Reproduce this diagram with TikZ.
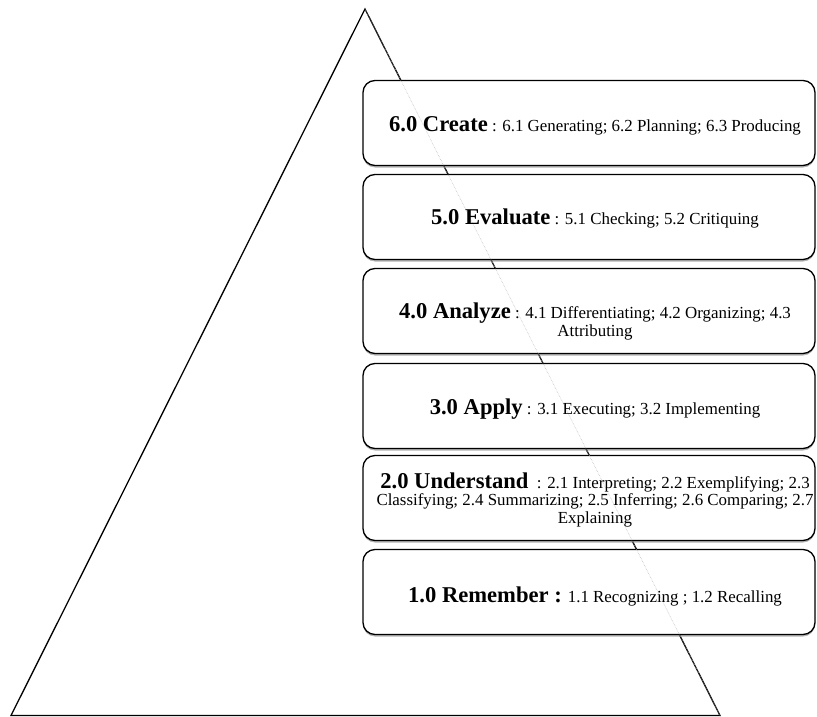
\documentclass[tikz,border=0pt]{standalone}
\usepackage{fontspec}
\setmainfont{Liberation Serif}
\usetikzlibrary{shadows}
\newcommand{\lvlname}[1]{{\fontsize{22.6}{24}\selectfont\bfseries #1}}
\begin{document}
\begin{tikzpicture}[x=1pt,y=-1pt,
        lvl/.style={draw,line width=1.3pt,rounded corners=12pt,fill=white,minimum width=452pt,minimum height=85pt,
            drop shadow={shadow xshift=0pt,shadow yshift=-2pt,opacity=0.6}},
        txt/.style={anchor=base,align=center,inner sep=0pt,font=\fontsize{16.9}{17.2}\selectfont},
        ghost/.style={gray!60,densely dotted,line width=0.5pt}]
        \useasboundingbox (0,0) rectangle (817,717);
        \coordinate (apex) at (365,9);
        \coordinate (bl)   at (11,715.5);
        \coordinate (br)   at (720,715.5);
        \draw [line width=1.3pt,line join=miter] (apex) -- (bl) -- (br) -- cycle;

        \node[lvl] (create)     at (589,123) {};
        \node[lvl] (evaluate)   at (589,217) {};
        \node[lvl] (analyze)    at (589,311) {};
        \node[lvl] (apply)      at (589,406) {};
        \node[lvl] (understand) at (589,498) {};
        \node[lvl] (remember)   at (589,592) {};

        \draw [ghost] (apex) -- (br);

        % last line of each text sits on the given baseline
        \node[txt] (createtxt)     at (595,131) {\lvlname{6.0 Create} : 6.1 Generating; 6.2 Planning; 6.3 Producing};
        \node[txt] (evaluatetxt)   at (595,224) {\lvlname{5.0 Evaluate} : 5.1 Checking; 5.2 Critiquing};
        \node[txt] (analyzetxt)    at (595,336) {\lvlname{4.0 Analyze} : 4.1 Differentiating; 4.2 Organizing; 4.3\\ Attributing};
        \node[txt] (applytxt)      at (595,414) {\lvlname{3.0 Apply} : 3.1 Executing; 3.2 Implementing};
        \node[txt] (understandtxt) at (595,523) {\lvlname{2.0 Understand}\ \ : 2.1 Interpreting; 2.2 Exemplifying; 2.3\\ Classifying; 2.4 Summarizing; 2.5 Inferring; 2.6 Comparing; 2.7\\ Explaining};
        \node[txt] (remembertxt)   at (595,602) {\lvlname{1.0 Remember\ :}\hspace{6pt}1.1 Recognizing ; 1.2 Recalling};
    \end{tikzpicture}
\end{document}
